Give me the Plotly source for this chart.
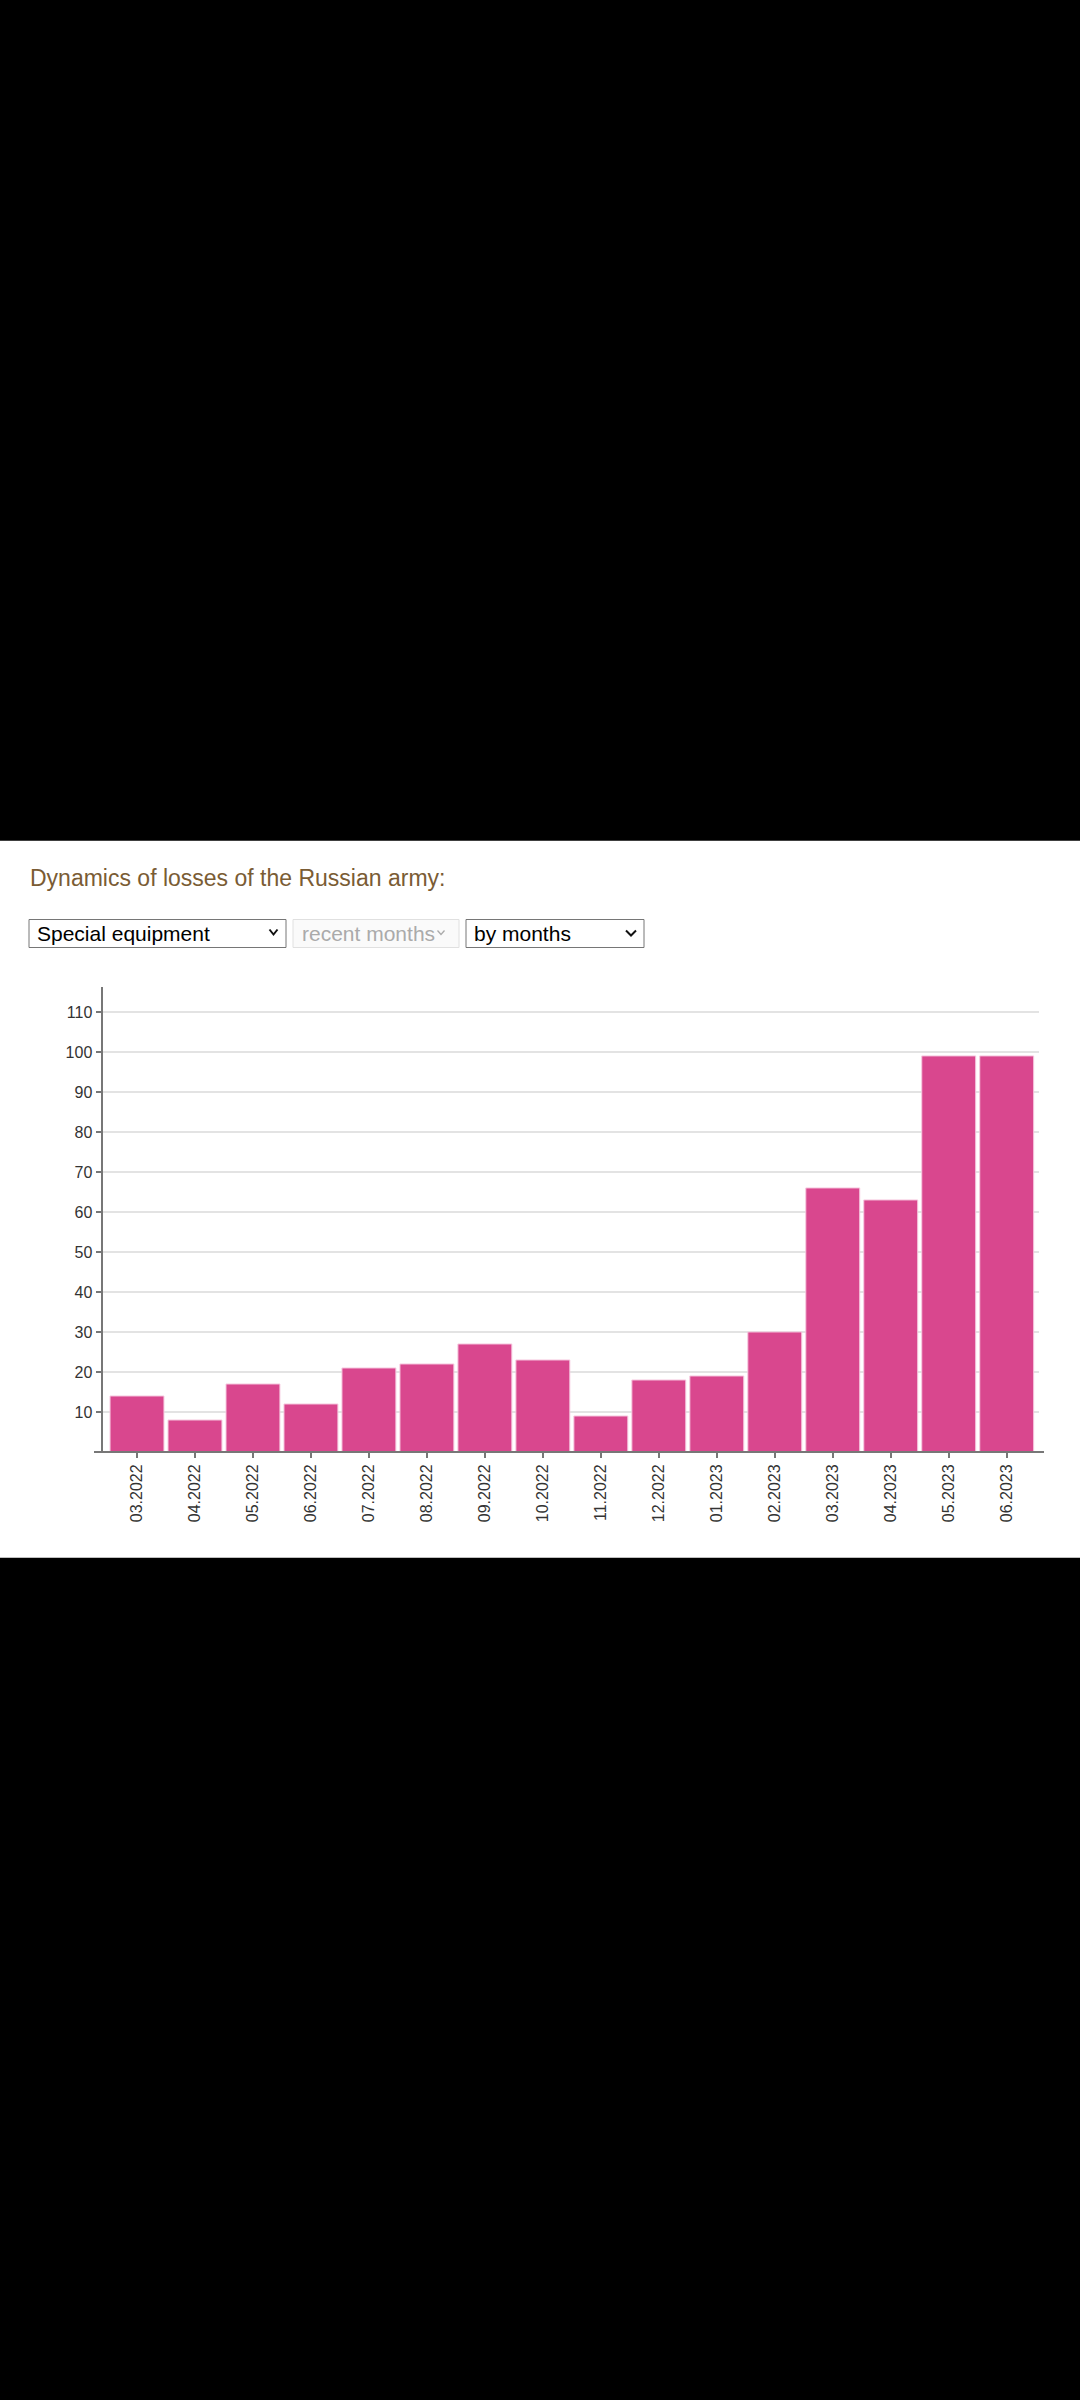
import plotly.graph_objects as go

# page size in pixels
W, H = 1080, 2400

# chart data
months = ["03.2022", "04.2022", "05.2022", "06.2022", "07.2022", "08.2022",
          "09.2022", "10.2022", "11.2022", "12.2022", "01.2023", "02.2023",
          "03.2023", "04.2023", "05.2023", "06.2023"]
losses = [14, 8, 17, 12, 21, 22, 27, 23, 9, 18, 19, 30, 66, 63, 99, 99]
y_ticks = [10, 20, 30, 40, 50, 60, 70, 80, 90, 100, 110]

title_text = "Dynamics of losses of the Russian army:"
select_labels = ["Special equipment", "recent months", "by months"]

FONT = "Arial, Liberation Sans, sans-serif"


def fx(px):
    # pixel x -> paper
    return px / W


def fy(py):
    # pixel y (from top) -> paper
    return 1 - py / H


fig = go.Figure(
    go.Bar(
        x=months,
        y=losses,
        marker=dict(color="#d9478e", line=dict(color="#f6c8df", width=1)),
        hoverinfo="x+y",
    )
)

shapes = []
# white page band between the black areas
shapes.append(dict(type="rect", xref="paper", yref="paper", layer="below",
                   x0=0, x1=1, y0=fy(1557.7), y1=fy(840.7),
                   fillcolor="white", line=dict(width=0)))

# dropdown boxes
boxes = [
    (29, 286, "#767676", "white"),
    (293, 459, "#e0e0e0", "#fafafa"),
    (466, 644, "#767676", "white"),
]
for x0, x1, lc, fc in boxes:
    shapes.append(dict(type="rect", xref="paper", yref="paper",
                       x0=fx(x0), x1=fx(x1), y0=fy(947.5), y1=fy(919.5),
                       fillcolor=fc, line=dict(color=lc, width=1)))

# dropdown chevrons
chevrons = [
    (269.5, 273.5, 277.5, 929.5, 934.5, "#111", 2),
    (437.5, 441.0, 444.5, 930.5, 934.5, "#aaa", 1.3),
    (626.0, 631.0, 636.0, 930.5, 935.5, "#111", 2),
]
for a, b, c, top, bot, col, w in chevrons:
    shapes.append(dict(type="path", xref="paper", yref="paper",
                       path=f"M {fx(a)},{fy(top)} L {fx(b)},{fy(bot)} L {fx(c)},{fy(top)}",
                       line=dict(color=col, width=w)))

# x axis line (runs a bit past the plot on both sides)
shapes.append(dict(type="line", xref="paper", yref="paper",
                   x0=fx(94), x1=fx(1044), y0=fy(1452), y1=fy(1452),
                   line=dict(color="#777", width=2)))

annotations = [
    dict(text=title_text, x=fx(28), y=fy(878), xref="paper", yref="paper",
         xanchor="left", yanchor="middle", showarrow=False,
         font=dict(family=FONT, size=23, color="#7a5c34")),
    dict(text=select_labels[0], x=fx(35), y=fy(933.5), xref="paper", yref="paper",
         xanchor="left", yanchor="middle", showarrow=False,
         font=dict(family=FONT, size=21, color="#000")),
    dict(text=select_labels[1], x=fx(300), y=fy(933.5), xref="paper", yref="paper",
         xanchor="left", yanchor="middle", showarrow=False,
         font=dict(family=FONT, size=21, color="#aaaaaa")),
    dict(text=select_labels[2], x=fx(472), y=fy(933.5), xref="paper", yref="paper",
         xanchor="left", yanchor="middle", showarrow=False,
         font=dict(family=FONT, size=21, color="#000")),
]

fig.update_layout(
    width=W,
    height=H,
    autosize=False,
    margin=dict(l=0, r=0, t=0, b=0),
    paper_bgcolor="black",
    plot_bgcolor="rgba(0,0,0,0)",
    showlegend=False,
    bargap=0.07,
    shapes=shapes,
    annotations=annotations,
    font=dict(family=FONT, size=16, color="#333"),
    xaxis=dict(
        domain=[fx(102.5), fx(1039)],
        range=[-0.595, 15.557],
        type="category",
        tickangle=-90,
        ticks="outside",
        ticklen=5,
        tickwidth=1.5,
        tickcolor="#777",
        showline=False,
        showgrid=False,
        zeroline=False,
        tickfont=dict(family=FONT, size=16, color="#333"),
        fixedrange=True,
    ),
    yaxis=dict(
        domain=[fy(1452), fy(986.7)],
        range=[0, 116.3],
        tickvals=y_ticks,
        ticks="outside",
        ticklen=5,
        tickwidth=1.5,
        tickcolor="#777",
        showline=True,
        linecolor="#777",
        linewidth=2,
        showgrid=True,
        gridcolor="#e3e3e3",
        gridwidth=1.5,
        zeroline=False,
        tickfont=dict(family=FONT, size=16, color="#333"),
        fixedrange=True,
    ),
)

# drop the browser's default body margin so the figure sits at 0,0
fig.write_html("out.html", config={"displayModeBar": False},
               post_script="document.body.style.margin = '0';")
